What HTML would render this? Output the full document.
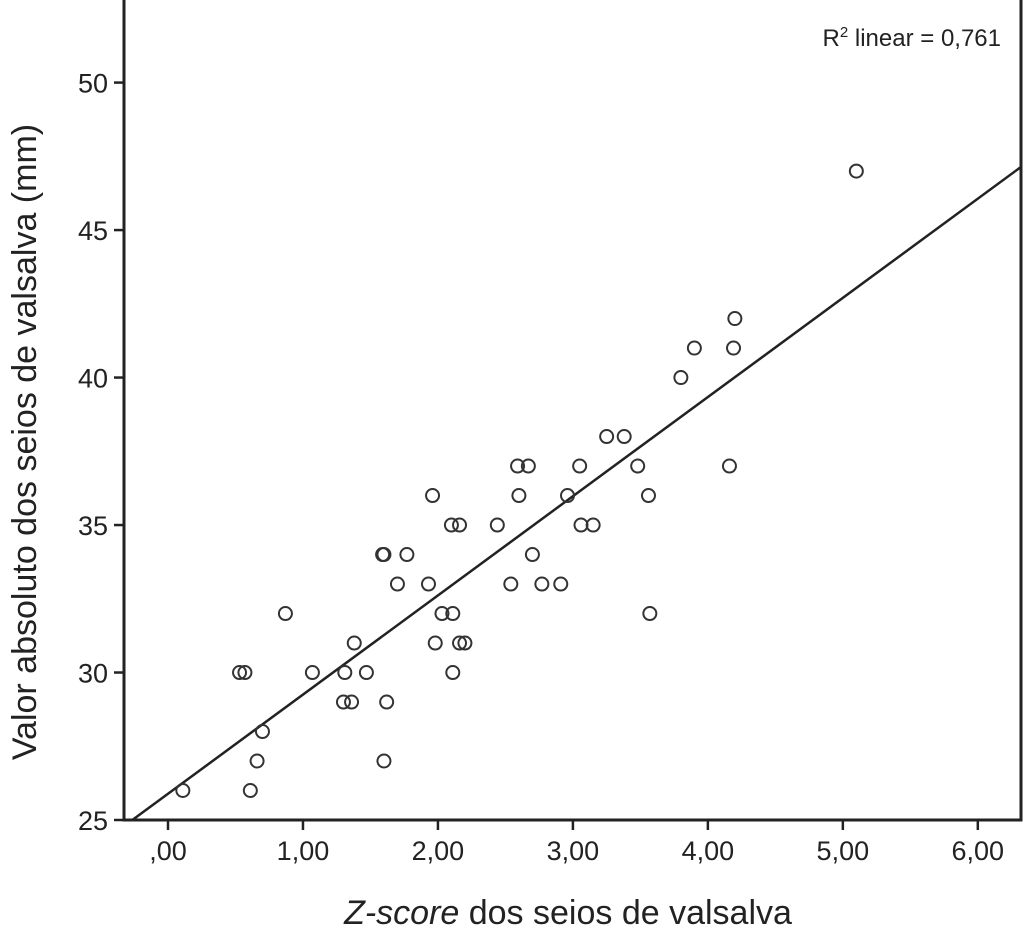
<!DOCTYPE html>
<html><head><meta charset="utf-8"><style>
body{margin:0;background:#fff;}
svg{display:block;font-family:"Liberation Sans",sans-serif;}
</style></head><body>
<svg id="chart" width="1024" height="933">
<g id="plot"></g>
</svg>
<script>
const xVals=[0.11,0.61,0.66,1.6,0.70,1.30,1.36,1.62,0.53,0.57,1.07,1.31,1.47,2.11,1.38,1.98,2.16,2.20,0.87,2.03,2.11,3.57,1.93,1.70,2.54,2.77,2.91,1.59,1.60,1.77,2.70,2.10,2.16,2.44,3.06,3.15,1.96,2.60,2.96,3.56,2.59,2.67,3.05,3.48,4.16,3.25,3.38,3.80,3.90,4.19,4.20,5.10];
const yVals=[26,26,27,27,28,29,29,29,30,30,30,30,30,30,31,31,31,31,32,32,32,32,33,33,33,33,33,34,34,34,34,35,35,35,35,35,36,36,36,36,37,37,37,37,37,38,38,40,41,41,42,47];
const xTicks=[0,1,2,3,4,5,6];
const xTickLabels=[",00","1,00","2,00","3,00","4,00","5,00","6,00"];
const yTicks=[25,30,35,40,45,50];
const r2Label="0,761";
const NS="http://www.w3.org/2000/svg";
const L=124,R=1021,T=0,B=820;
const xMin=-0.326,xMax=6.32,yMin=25,yMax=52.8;
const sx=v=>L+(v-xMin)/(xMax-xMin)*(R-L);
const sy=v=>B-(v-yMin)/(yMax-yMin)*(B-T);
const g=document.getElementById('plot');
function mk(t,a,txt){const e=document.createElementNS(NS,t);for(const k in a)e.setAttribute(k,a[k]);if(txt!==undefined)e.textContent=txt;g.appendChild(e);return e;}
let e=mk('rect',{x:L,y:T-2,width:R-L,height:B-T+2,fill:'none',stroke:'#222','stroke-width':3});


xTicks.forEach((v,i)=>{
 let t=mk('line',{x1:sx(v),x2:sx(v),y1:B,y2:B+10,stroke:'#222','stroke-width':2.5});
 
 
 let l=mk('text',{x:sx(v),y:B+40,'text-anchor':'middle','font-size':27,fill:'#222'},xTickLabels[i]);
 
 
});
yTicks.forEach(v=>{
 let t=mk('line',{x1:L-10,x2:L,y1:sy(v),y2:sy(v),stroke:'#222','stroke-width':2.5});
 
 
 let l=mk('text',{x:L-16,y:sy(v)+10,'text-anchor':'end','font-size':27,fill:'#222'},String(v));
 
 
});
const n=xVals.length;let mx=0,my=0;for(let i=0;i<n;i++){mx+=xVals[i];my+=yVals[i];}mx/=n;my/=n;
let sxy=0,sxx=0;for(let i=0;i<n;i++){sxy+=(xVals[i]-mx)*(yVals[i]-my);sxx+=(xVals[i]-mx)**2;}
const slope=sxy/sxx,icpt=my-slope*mx;
const x0=(yMin-icpt)/slope;
let fl=mk('line',{x1:sx(Math.max(x0,xMin)),y1:sy(icpt+slope*Math.max(x0,xMin)),x2:sx(xMax),y2:sy(icpt+slope*xMax),stroke:'#222','stroke-width':2.5});


for(let i=0;i<n;i++){
 let c=mk('circle',{cx:sx(xVals[i]),cy:sy(yVals[i]),r:6.5,fill:'none',stroke:'#333','stroke-width':2});
 
 
}
let r2=mk('text',{x:1001,y:46,'text-anchor':'end','font-size':24,fill:'#222'});


r2.innerHTML='R<tspan dy="-9" font-size="15">2</tspan><tspan dy="9"> linear = '+r2Label+'</tspan>';
let xt=mk('text',{x:568,y:924,'text-anchor':'middle','font-size':34,fill:'#222'});


xt.innerHTML='<tspan font-style="italic">Z-score</tspan> dos seios de valsalva';
let yt=mk('text',{x:0,y:0,'text-anchor':'middle','font-size':34,fill:'#222',transform:'translate(36,442) rotate(-90)'},'Valor absoluto dos seios de valsalva (mm)');


</script>
</body></html>
